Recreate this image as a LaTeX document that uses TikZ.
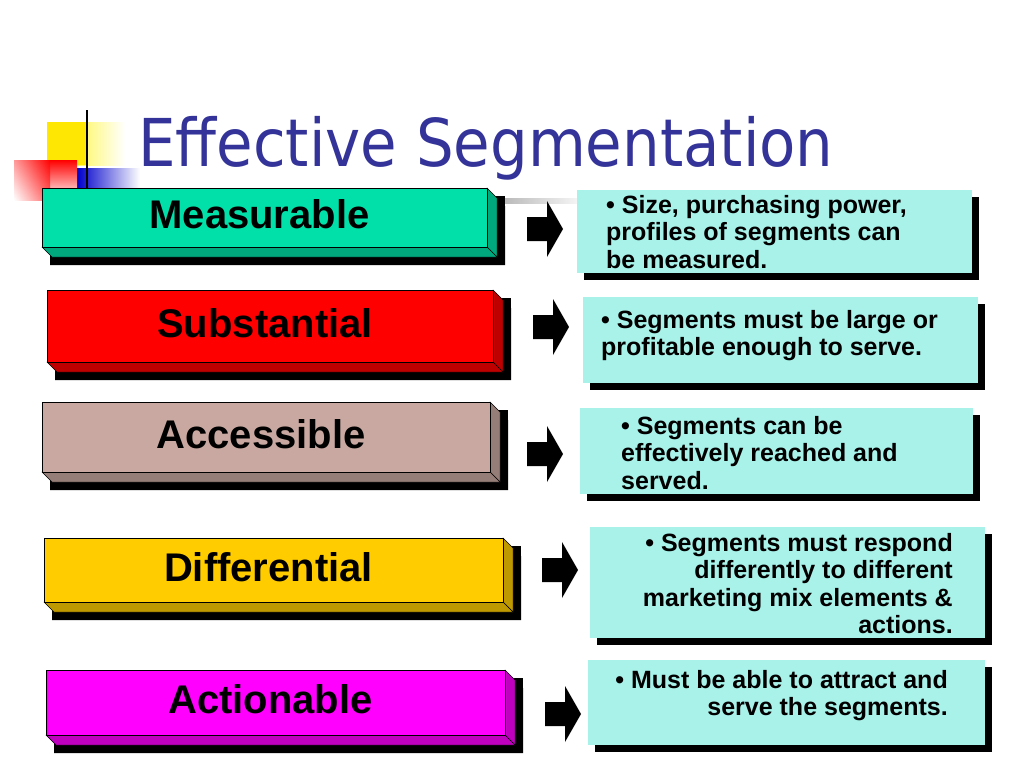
\documentclass[tikz,border=0pt]{standalone}
\usepackage{fontspec}
\setmainfont{Liberation Sans}
\newfontfamily\ttlfont{DejaVu Sans Condensed}
\definecolor{ttl}{HTML}{333399}
\definecolor{boxc}{HTML}{A8F2EA}
\begin{document}
\begin{tikzpicture}[x=1pt,y=-1pt,
  lbl/.style={font=\fontsize{40}{44}\selectfont\bfseries},
  txt/.style={font=\fontsize{25}{27.5}\selectfont\bfseries, align=left, anchor=north west, inner sep=0pt}]
\useasboundingbox (0,0) rectangle (1024,768);
% decoration
\shade[left color=yellow!90!orange, right color=white] (47,122) rectangle (125,165);
\fill[yellow!90!orange] (47,122) rectangle (87,165);
\shade[left color=blue!80!black, right color=white] (77,168) rectangle (140,190);
\shade[top color=red, bottom color=white] (14,160) rectangle (77,200);
\shade[left color=white, right color=red, opacity=0.6] (14,160) rectangle (50,200);
\draw[line width=2pt] (87,110) -- (87,190);
\shade[left color=gray!60, right color=white] (495,198) rectangle (590,203);
\node[anchor=west, text=ttl, font=\ttlfont\fontsize{66}{70}\selectfont, inner sep=0pt] (title) at (138,148) {Effective Segmentation};
% bars
\newcommand\bevbar[7]{%
  \fill[black] (#1+8,#3+8) -- (#2+10+8,#3+10+8) -- (#2+10+8,#4+10+8) -- (#1+8,#4+10+8) -- cycle;
  \fill[black] (#2+8,#3+8) rectangle (#2+10+8,#4+10+8);
  \fill[black] (#1+8,#4+8) rectangle (#2+10+8,#4+10+8);
  \filldraw[fill=#5!75!black, draw=black] (#2,#3) -- (#2+10,#3+10) -- (#2+10,#4+10) -- (#2,#4) -- cycle;
  \filldraw[fill=#5!75!black, draw=black] (#1,#4) -- (#2,#4) -- (#2+10,#4+10) -- (#1+10,#4+10) -- cycle;
  \filldraw[fill=#5, draw=black] (#1,#3) rectangle (#2,#4);
  \node[lbl] (#6) at ({(#1+#2)/2 - 5},{(#3+#4)/2 - 3}) {#7};}
\definecolor{c1}{HTML}{00E0A8}\definecolor{c2}{HTML}{FF0000}\definecolor{c3}{HTML}{C8A8A0}
\definecolor{c4}{HTML}{FFCC00}\definecolor{c5}{HTML}{FF00FF}
\bevbar{42}{487}{188}{247}{c1}{b1}{Measurable}
\bevbar{47}{493}{290}{362}{c2}{b2}{Substantial}
\bevbar{42}{490}{402}{472}{c3}{b3}{Accessible}
\bevbar{44}{503}{538}{602}{c4}{b4}{Differential}
\bevbar{46}{505}{670}{735}{c5}{b5}{Actionable}
% arrows
\newcommand\barrow[3]{%
  \fill[black] (#1,#2-12) -- (#1+20,#2-12) -- (#1+20,#2-28) -- (#1+36,#2) -- (#1+20,#2+28) -- (#1+20,#2+12) -- (#1,#2+12) -- cycle;
  \coordinate (#3) at (#1+18,#2);}
\barrow{527}{229}{a1}
\barrow{533}{327}{a2}
\barrow{527}{454}{a3}
\barrow{542}{570}{a4}
\barrow{545}{714}{a5}
% boxes
\newcommand\tbox[5]{%
  \fill[black] (#1+7,#3+7) rectangle (#2+7,#4+7);
  \fill[boxc] (#1,#3) rectangle (#2,#4);
  \coordinate (#5) at ({(#1+#2)/2},{(#3+#4)/2});}
\tbox{577}{972}{190}{273}{r1}
\tbox{583}{978}{297}{383}{r2}
\tbox{580}{973}{408}{494}{r3}
\tbox{590}{985}{527}{638}{r4}
\tbox{588}{985}{660}{745}{r5}
\node[txt] (t1) at (606,195) {• Size, purchasing power,\\profiles of segments can\\be measured.};
\node[txt] (t2) at (601,310) {• Segments must be large or\\profitable enough to serve.};
\node[txt] (t3) at (621,416) {• Segments can be\\effectively reached and\\served.};
\node[txt, align=right, anchor=north east] (t4) at (953,533) {• Segments must respond\\differently to different\\marketing mix elements \&\\actions.};
\node[txt, align=right, anchor=north east] (t5) at (948,670) {• Must be able to attract and\\serve the segments.};
\end{tikzpicture}
\end{document}
